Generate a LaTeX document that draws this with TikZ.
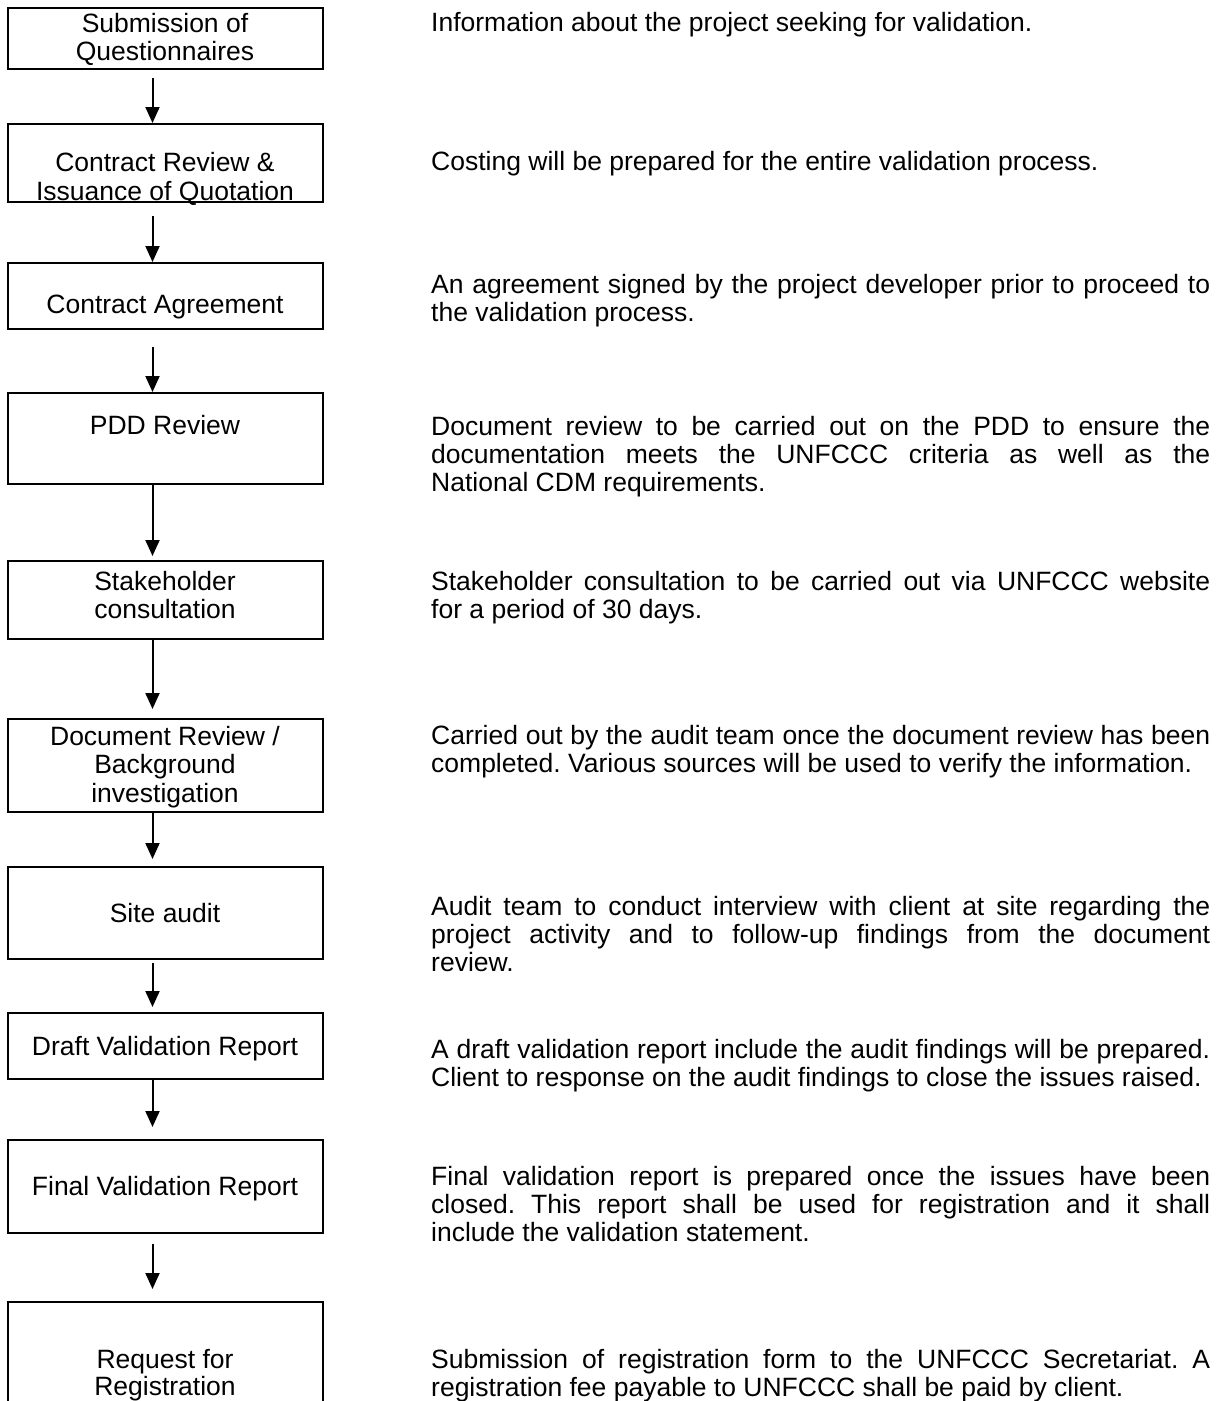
\documentclass[tikz,border=0pt]{standalone}
\usepackage{fontspec}
\setmainfont{Liberation Sans}
\usetikzlibrary{arrows.meta}
\newcommand\jline[1]{\makebox[\linewidth][s]{#1}}
\frenchspacing
\begin{document}
\begin{tikzpicture}[x=1pt,y=-1pt,
  stepbox/.style={draw, line width=2pt, minimum width=315pt, inner sep=0pt},
  lbl/.style={anchor=base, inner sep=0pt, font=\fontsize{26.5}{28.5}\selectfont},
  desc/.style={anchor=base west, inner sep=0pt, font=\fontsize{26.5}{28}\selectfont},
  flow/.style={line width=2pt, -{Triangle[length=16pt,width=14pt]}}]
\useasboundingbox (0,0) rectangle (1220,1401);
\clip (0,0) rectangle (1220,1401);
% boxes
\node[stepbox, minimum height=61.5pt] (b1) at (165,38.25) {};
\node[stepbox, minimum height=78pt]   (b2) at (165,163) {};
\node[stepbox, minimum height=66pt]   (b3) at (165,296) {};
\node[stepbox, minimum height=91pt]   (b4) at (165,438.5) {};
\node[stepbox, minimum height=78pt]   (b5) at (165,600) {};
\node[stepbox, minimum height=93pt]   (b6) at (165,765.5) {};
\node[stepbox, minimum height=92pt]   (b7) at (165,913) {};
\node[stepbox, minimum height=66pt]   (b8) at (165,1046) {};
\node[stepbox, minimum height=93pt]   (b9) at (165,1186.5) {};
\node[stepbox, minimum height=130pt]  (b10) at (165,1367) {};
% labels
\node[lbl] (l1) at (165,32) {\parbox[t]{315pt}{\centering Submission of\\Questionnaires}};
\node[lbl] (l2) at (165,171.5) {\parbox[t]{315pt}{\centering Contract Review \&\\Issuance of Quotation}};
\node[lbl] (l3) at (165,313) {Contract Agreement};
\node[lbl] (l4) at (165,434) {PDD Review};
\node[lbl] (l5) at (165,590) {\parbox[t]{315pt}{\centering Stakeholder\\consultation}};
\node[lbl] (l6) at (165,745) {\parbox[t]{315pt}{\centering Document Review /\\Background\\investigation}};
\node[lbl] (l7) at (165,922) {Site audit};
\node[lbl] (l8) at (165,1055) {Draft Validation Report};
\node[lbl] (l9) at (165,1195) {Final Validation Report};
\node[lbl] (l10) at (165,1368) {\parbox[t]{315pt}{\centering\baselineskip=27pt Request for\\Registration}};
% arrows
\draw[flow] ([shift={(-12.5,8)}]b1.south) -- ([shift={(-12.5,0)}]b2.north);
\draw[flow] ([shift={(-12.5,13)}]b2.south) -- ([shift={(-12.5,0)}]b3.north);
\draw[flow] ([shift={(-12.5,17)}]b3.south) -- ([shift={(-12.5,0)}]b4.north);
\draw[flow] ([shift={(-12.5,0)}]b4.south) -- ([shift={(-12.5,-4)}]b5.north);
\draw[flow] ([shift={(-12.5,0)}]b5.south) -- ([shift={(-12.5,-9)}]b6.north);
\draw[flow] ([shift={(-12.5,0)}]b6.south) -- ([shift={(-12.5,-7)}]b7.north);
\draw[flow] ([shift={(-12.5,3)}]b7.south) -- ([shift={(-12.5,-5)}]b8.north);
\draw[flow] ([shift={(-12.5,0)}]b8.south) -- ([shift={(-12.5,-12)}]b9.north);
\draw[flow] ([shift={(-12.5,10)}]b9.south) -- ([shift={(-12.5,-12)}]b10.north);
% descriptions
\node[desc] (t1) at (431,31) {\parbox[t]{779pt}{Information about the project seeking for validation.}};
\node[desc] (t2) at (431,170) {\parbox[t]{779pt}{Costing will be prepared for the entire validation process.}};
\node[desc] (t3) at (431,293) {\parbox[t]{779pt}{\jline{An agreement signed by the project developer prior to proceed to}\\the validation process.}};
\node[desc] (t4) at (431,435) {\parbox[t]{779pt}{\jline{Document review to be carried out on the PDD to ensure the}\\\jline{documentation meets the UNFCCC criteria as well as the}\\National CDM requirements.}};
\node[desc] (t5) at (431,590) {\parbox[t]{779pt}{\jline{Stakeholder consultation to be carried out via UNFCCC website}\\for a period of 30 days.}};
\node[desc] (t6) at (431,744) {\parbox[t]{779pt}{\jline{Carried out by the audit team once the document review has been}\\completed. Various sources will be used to verify the information.}};
\node[desc] (t7) at (431,915) {\parbox[t]{779pt}{\jline{Audit team to conduct interview with client at site regarding the}\\\jline{project activity and to follow-up findings from the document}\\review.}};
\node[desc] (t8) at (431,1058) {\parbox[t]{779pt}{\jline{A draft validation report include the audit findings will be prepared.}\\Client to response on the audit findings to close the issues raised.}};
\node[desc] (t9) at (431,1185) {\parbox[t]{779pt}{\jline{Final validation report is prepared once the issues have been}\\\jline{closed. This report shall be used for registration and it shall}\\include the validation statement.}};
\node[desc] (t10) at (431,1368) {\parbox[t]{779pt}{\jline{Submission of registration form to the UNFCCC Secretariat. A}\\registration fee payable to UNFCCC shall be paid by client.}};
\end{tikzpicture}
\end{document}
